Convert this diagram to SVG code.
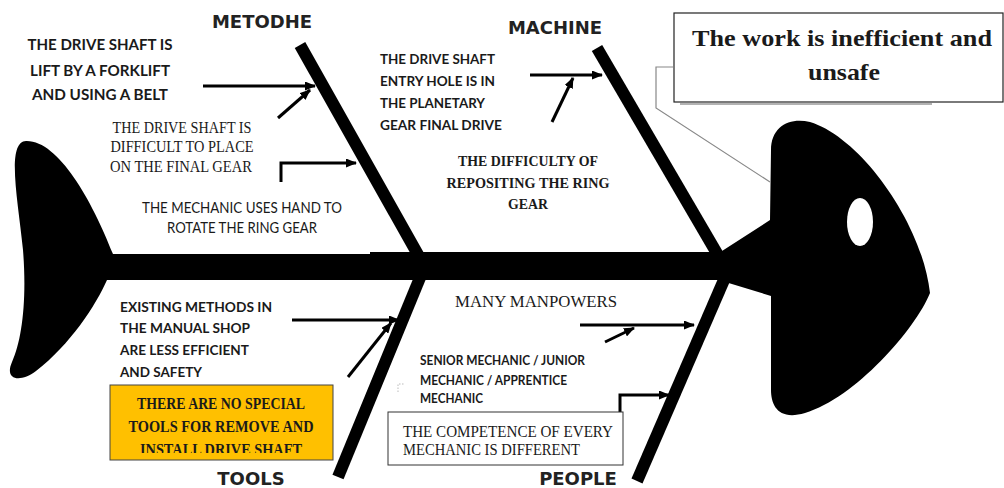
<svg xmlns="http://www.w3.org/2000/svg" width="1004" height="488" viewBox="0 0 1004 488">
<style>
.fish{fill:#000}
.bone{stroke:#000;stroke-width:12;fill:none}
.arr{stroke:#000;stroke-width:3;fill:none}
.hd{font-family:"DejaVu Sans",sans-serif;font-weight:700;font-size:18px;fill:#222}
.bs{font-family:Lato,"Liberation Sans",sans-serif;font-weight:700;fill:#1a1a1a}
.rs{font-family:Lato,"Liberation Sans",sans-serif;font-weight:400;fill:#1a1a1a}
.sf{font-family:"Liberation Serif",serif;font-weight:400;fill:#1a1a1a}
.sb{font-family:"Liberation Serif",serif;font-weight:700;fill:#1a1a1a}
</style>
<defs>
<marker id="ah" markerUnits="userSpaceOnUse" markerWidth="11" markerHeight="9" refX="10" refY="4.5" orient="auto">
<path d="M0,0 L11,4.5 L0,9 z" fill="#000"/>
</marker>
<clipPath id="yclip"><rect x="110" y="386" width="223" height="67"/></clipPath>
</defs>
<rect width="1004" height="488" fill="#fff"/>

<g id="fish">
<path class="fish" d="M113,254 C92,200 58,140 26,141 C6,142 18,200 23,250 C27,300 22,340 12,362 C4,380 20,383 36,371 C70,345 96,305 107,280 Z"/>
<path class="fish" d="M107,254 L370,254 L370,252 L724,252 L724,280 L107,280 Z"/>
<path class="fish" d="M770,220 L771,150 C771,126 790,117 810,122 C860,137 922,222 930,293 C915,330 855,398 805,413 C778,421 771,405 771,390 L771,296 L722,281 L722,251 Z"/>
<ellipse cx="860" cy="222" rx="13" ry="24" fill="#fff"/>
</g>

<g id="bones">
<line class="bone" x1="300" y1="45" x2="421" y2="260"/>
<line class="bone" x1="597" y1="48" x2="722" y2="262"/>
<line class="bone" x1="424" y1="268" x2="338" y2="477"/>
<line class="bone" x1="730" y1="266" x2="637" y2="481"/>
</g>

<g id="connectors">
<path class="arr" d="M203,86 H315" marker-end="url(#ah)"/>
<path class="arr" d="M278,118 L310,90" marker-end="url(#ah)"/>
<path class="arr" d="M281,182 V163 H356" marker-end="url(#ah)"/>
<path class="arr" d="M530,75 H602" marker-end="url(#ah)"/>
<path class="arr" d="M552,122 L573,78" marker-end="url(#ah)"/>
<path class="arr" d="M292,320 H399" marker-end="url(#ah)"/>
<path class="arr" d="M348,377 L391,323" marker-end="url(#ah)"/>
<path class="arr" d="M580,325 H694" marker-end="url(#ah)"/>
<path class="arr" d="M605,342 L634,328" marker-end="url(#ah)"/>
<path class="arr" d="M620,413 V395 H669" marker-end="url(#ah)"/>
<polyline points="673,67 656,67 656,108 770,182" fill="none" stroke="#888" stroke-width="1.2"/>
<path d="M398,392 V384 H404" fill="none" stroke="#bbb" stroke-width="1" stroke-dasharray="1.5,1.5"/>
</g>

<g id="heading-metodhe"><text class="hd" x="262" y="28" text-anchor="middle">METODHE</text></g>
<g id="heading-machine"><text class="hd" x="555" y="34" text-anchor="middle">MACHINE</text></g>
<g id="heading-tools"><text class="hd" x="251" y="485" text-anchor="middle">TOOLS</text></g>
<g id="heading-people"><text class="hd" x="578" y="485" text-anchor="middle">PEOPLE</text></g>

<g id="cause-forklift" class="bs" font-size="15" text-anchor="middle">
<text x="100" y="50" textLength="145" lengthAdjust="spacingAndGlyphs">THE DRIVE SHAFT IS</text>
<text x="100" y="76" textLength="140" lengthAdjust="spacingAndGlyphs">LIFT BY A FORKLIFT</text>
<text x="100" y="100" textLength="136" lengthAdjust="spacingAndGlyphs">AND USING A BELT</text>
</g>

<g id="cause-place" class="sf" font-size="16.5" text-anchor="middle">
<text x="182" y="133" textLength="139" lengthAdjust="spacingAndGlyphs">THE DRIVE SHAFT IS</text>
<text x="182" y="152" textLength="143" lengthAdjust="spacingAndGlyphs">DIFFICULT TO PLACE</text>
<text x="181" y="172" textLength="142" lengthAdjust="spacingAndGlyphs">ON THE FINAL GEAR</text>
</g>

<g id="cause-hand" class="rs" font-size="14.5" text-anchor="middle">
<text x="242" y="213" textLength="200" lengthAdjust="spacingAndGlyphs">THE MECHANIC USES HAND TO</text>
<text x="242" y="233" textLength="150" lengthAdjust="spacingAndGlyphs">ROTATE THE RING GEAR</text>
</g>

<g id="cause-entry" class="bs" font-size="13.5">
<text x="380" y="64" textLength="115" lengthAdjust="spacingAndGlyphs">THE DRIVE SHAFT</text>
<text x="380" y="86" textLength="115" lengthAdjust="spacingAndGlyphs">ENTRY HOLE IS IN</text>
<text x="380" y="108" textLength="105" lengthAdjust="spacingAndGlyphs">THE PLANETARY</text>
<text x="380" y="130" textLength="122" lengthAdjust="spacingAndGlyphs">GEAR FINAL DRIVE</text>
</g>

<g id="cause-ring" class="sb" font-size="15.5" text-anchor="middle">
<text x="528" y="166" textLength="140" lengthAdjust="spacingAndGlyphs">THE DIFFICULTY OF</text>
<text x="528" y="188" textLength="163" lengthAdjust="spacingAndGlyphs">REPOSITING THE RING</text>
<text x="528" y="209" textLength="40" lengthAdjust="spacingAndGlyphs">GEAR</text>
</g>

<g id="cause-methods" class="bs" font-size="14">
<text x="120" y="312" textLength="152" lengthAdjust="spacingAndGlyphs">EXISTING METHODS IN</text>
<text x="120" y="333" textLength="130" lengthAdjust="spacingAndGlyphs">THE MANUAL SHOP</text>
<text x="120" y="355" textLength="129" lengthAdjust="spacingAndGlyphs">ARE LESS EFFICIENT</text>
<text x="120" y="377" textLength="82" lengthAdjust="spacingAndGlyphs">AND SAFETY</text>
</g>

<g id="cause-tools">
<rect x="110" y="385" width="223" height="75" fill="#FFC000" stroke="#444" stroke-width="1"/>
<g class="sb" font-size="16" text-anchor="middle" clip-path="url(#yclip)">
<text x="221" y="409" textLength="168" lengthAdjust="spacingAndGlyphs">THERE ARE NO SPECIAL</text>
<text x="221" y="432" textLength="185" lengthAdjust="spacingAndGlyphs">TOOLS FOR REMOVE AND</text>
<text x="221" y="455" textLength="162" lengthAdjust="spacingAndGlyphs">INSTALL DRIVE SHAFT</text>
</g>
</g>

<g id="cause-manpower" class="sf" font-size="16.5">
<text x="455" y="307" textLength="162" lengthAdjust="spacingAndGlyphs">MANY MANPOWERS</text>
</g>

<g id="cause-levels" class="bs" font-size="12.5">
<text x="420" y="365" textLength="165" lengthAdjust="spacingAndGlyphs">SENIOR MECHANIC / JUNIOR</text>
<text x="420" y="385" textLength="147" lengthAdjust="spacingAndGlyphs">MECHANIC / APPRENTICE</text>
<text x="420" y="403" textLength="63" lengthAdjust="spacingAndGlyphs">MECHANIC</text>
</g>

<g id="cause-competence">
<rect x="388" y="412" width="235" height="53" fill="#fff" stroke="#333" stroke-width="1"/>
<g class="sf" font-size="16">
<text x="403" y="437" textLength="210" lengthAdjust="spacingAndGlyphs">THE COMPETENCE OF EVERY</text>
<text x="403" y="455" textLength="177" lengthAdjust="spacingAndGlyphs">MECHANIC IS DIFFERENT</text>
</g>
</g>

<g id="effect">
<line x1="680" y1="104" x2="932" y2="104" stroke="#999" stroke-width="1.5"/>
<rect x="674" y="13" width="329" height="89" fill="#fff" stroke="#222" stroke-width="1.2"/>
<g class="sb" font-size="23" text-anchor="middle">
<text x="842" y="46" textLength="300" lengthAdjust="spacingAndGlyphs">The work is inefficient and</text>
<text x="844" y="80" textLength="72" lengthAdjust="spacingAndGlyphs">unsafe</text>
</g>
</g>
</svg>
